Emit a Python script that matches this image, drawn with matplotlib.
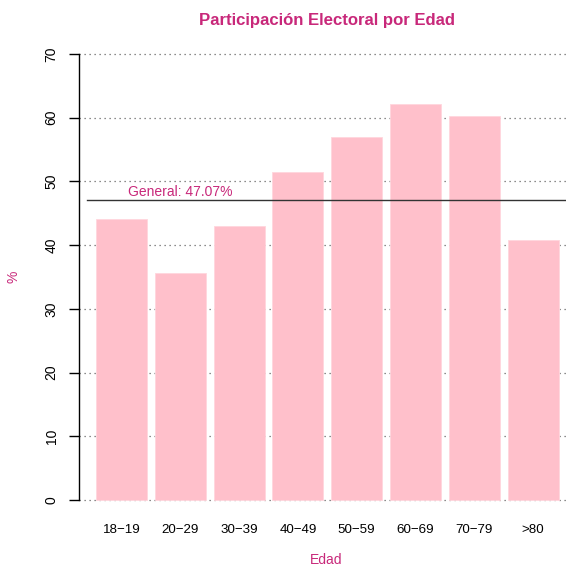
import matplotlib
matplotlib.use("Agg")
from matplotlib import pyplot as plt

edades = ["18\u221219", "20\u221229", "30\u221239", "40\u221249", "50\u221259", "60\u221269", "70\u221279", ">80"]
participacion = [44.1, 35.6, 43.0, 51.5, 57.0, 62.1, 60.2, 40.8]
general = 47.07
yticks = [0, 10, 20, 30, 40, 50, 60, 70]

magenta = "#C8287A"

plt.rcParams["font.family"] = ["Liberation Sans", "DejaVu Sans"]

fig = plt.figure(figsize=(5.66, 5.67), dpi=100)
W, H = 566, 567
# axes box in pixel terms (R-like margins)
left, right, bottom, top = 79, 566, 506.4, 47.6
ax = fig.add_axes([left / W, 1 - bottom / H, (right - left) / W, (bottom - top) / H])

centers = [0.7 + 1.2 * i for i in range(len(edades))]
ax.set_xlim(-0.167, 9.77)
ax.set_ylim(-1, 71)

for y in yticks:
    ax.axhline(y, color="#666666", linestyle=(0, (1, 3)), linewidth=0.9, zorder=0, clip_on=False)

ax.bar(centers, participacion, width=1.04, color="pink", edgecolor="#ffd6dd", linewidth=0.6, zorder=2)

ax.plot([0, 9.77], [general, general], color="#333333", linewidth=1.0, zorder=3)
ax.text(1.9, general + 0.1, "General: %.2f%%" % general, color=magenta, fontsize=10,
        ha="center", va="bottom", zorder=4)

for s in ["top", "right", "bottom"]:
    ax.spines[s].set_visible(False)
ax.spines["left"].set_bounds(0, 70)
ax.spines["left"].set_linewidth(1.0)

ax.set_yticks(yticks)
ax.set_yticklabels([str(v) for v in yticks], rotation=90, va="center", fontsize=10)
ax.tick_params(axis="y", length=7.2, width=1.0, pad=7.5)
ax.set_xticks(centers)
ax.set_xticklabels(edades, fontsize=9.6)
ax.tick_params(axis="x", length=0, pad=13)

ax.set_ylabel("%", color=magenta, fontsize=10, labelpad=17)
fig.text(326 / W, 1 - 560 / H, "Edad", ha="center", va="center", color=magenta, fontsize=10)
fig.text(327 / W, 1 - 20 / H, "Participación Electoral por Edad",
         ha="center", va="center", color=magenta, fontsize=12.1, fontweight="bold")

fig.savefig("out.png", dpi=100)
